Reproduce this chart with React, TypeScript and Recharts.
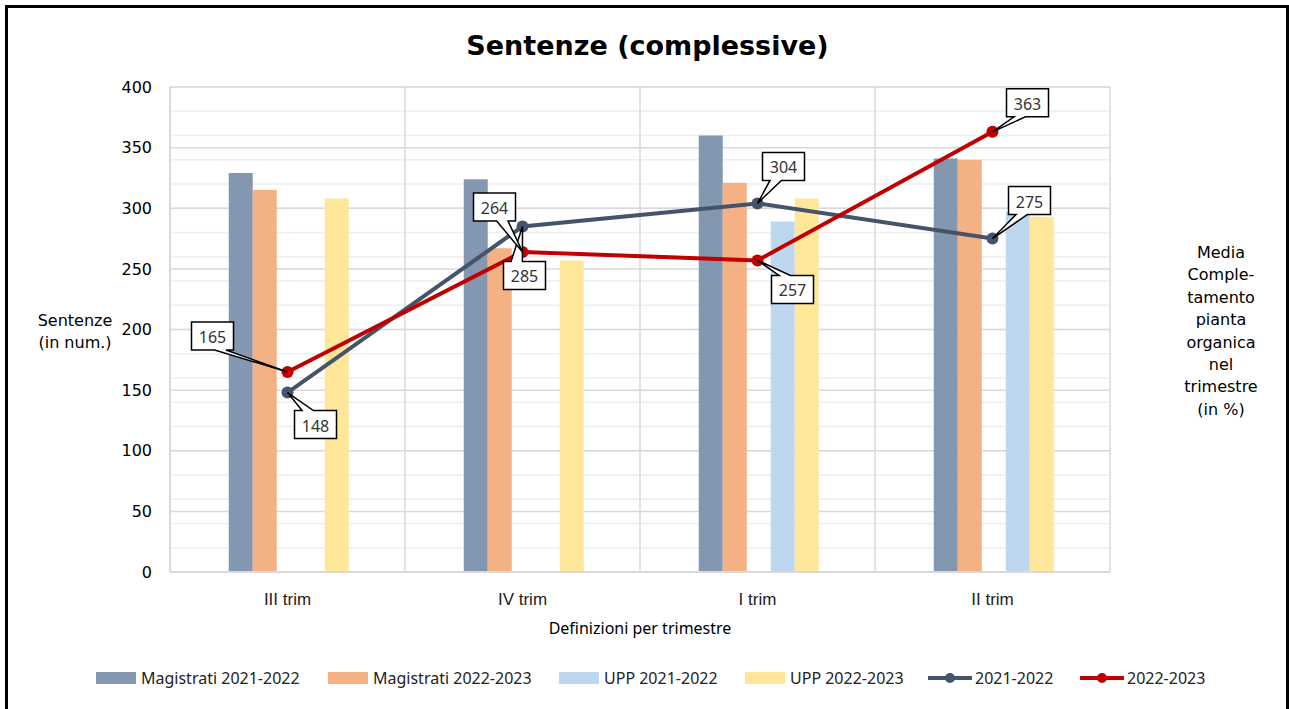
import React from 'react'
import {
  ComposedChart, Bar, Line, XAxis, YAxis, CartesianGrid, LabelList,
} from 'recharts'

const CATEGORIES = ['III trim', 'IV trim', 'I trim', 'II trim']
const MAG_2122 = [329, 324, 360, 341]
const MAG_2223 = [315, 267, 321, 340]
const UPP_2122 = [null, null, 289, 297]
const UPP_2223 = [308, 257, 308, 293]
const LINE_2122 = [148, 285, 304, 275]
const LINE_2223 = [165, 264, 257, 363]

const LEFT_TICKS = [0, 50, 100, 150, 200, 250, 300, 350, 400]
const RIGHT_TICKS = [0, 0.1, 0.2, 0.3, 0.4, 0.5, 0.6, 0.7, 0.8, 0.9, 1]

// callout box offset from its point (dx, dy)
const OFFSETS_2122 = [[28, 32], [2, 49], [26, -37], [37, -38]]
const OFFSETS_2223 = [[-75, -36], [-28, -45], [35, 29], [35, -29]]

const COLORS = {
  mag2122: '#8497B0',
  mag2223: '#F4B183',
  upp2122: '#BDD7EE',
  upp2223: '#FFE699',
  line2122: '#44546A',
  line2223: '#C00000',
}

const data = CATEGORIES.map((name, i) => ({
  name,
  mag2122: MAG_2122[i],
  mag2223: MAG_2223[i],
  gap: null,
  upp2122: UPP_2122[i],
  upp2223: UPP_2223[i],
  l2122: LINE_2122[i],
  l2223: LINE_2223[i],
}))

const minorValues = Array.from({ length: 41 }, (_, i) => i * 10)

const AXIS_FONT = '"DejaVu Sans", sans-serif'
const TEXT_FONT = '"Noto Sans", sans-serif'

function makeCallout(offsets: number[][]) {
  return (props: any) => {
    const { x, y, value, index } = props
    if (x == null || y == null) return null
    const [dx, dy] = offsets[index]
    const w = 42
    const h = 28
    const cx = x + dx
    const cy = y + dy
    const l = cx - w / 2
    const r = cx + w / 2
    const t = cy - h / 2
    const b = cy + h / 2
    const s = x >= cx ? 1 : -1
    const a = cx + s * w * 0.05
    const c = cx + s * w * 0.32
    const lo = Math.min(a, c)
    const hi = Math.max(a, c)
    let d
    if (y > b) {
      d = `M${l},${t} H${r} V${b} H${hi} L${x},${y} L${lo},${b} H${l} Z`
    } else {
      d = `M${l},${t} H${lo} L${x},${y} L${hi},${t} H${r} V${b} H${l} Z`
    }
    return (
      <g>
        <path d={d} fill="#fff" stroke="#000" strokeWidth={1.5} />
        <text x={cx} y={cy + 1} textAnchor="middle" dominantBaseline="central"
          fontFamily={TEXT_FONT} fontSize={16} fill="#333">{value}</text>
      </g>
    )
  }
}

const XTick = (props: any) => {
  const { x, y, payload } = props
  return (
    <text x={x} y={y + 31} textAnchor="middle" fill="#222"
      fontFamily="Liberation Sans, sans-serif" fontSize={17}>
      {payload.value}
    </text>
  )
}

const LeftTitle = () => {
  return (
    <text x={75} y={326} textAnchor="middle" fontFamily={AXIS_FONT} fontSize={16} fill="#000">
      <tspan x={75} dy={0}>Sentenze</tspan>
      <tspan x={75} dy={22}>(in num.)</tspan>
    </text>
  )
}

const RIGHT_TITLE = ['Media', 'Comple-', 'tamento', 'pianta', 'organica', 'nel', 'trimestre', '(in %)']

const RightTitle = () => {
  return (
    <text x={1221} y={258} textAnchor="middle" fontFamily={AXIS_FONT} fontSize={16} fill="#000">
      {RIGHT_TITLE.map((s, i) => (
        <tspan key={i} x={1221} dy={i === 0 ? 0 : 22.4}>{s}</tspan>
      ))}
    </text>
  )
}

function LegendItem({ kind, color, label, width }: any) {
  return (
    <div style={{ display: 'flex', alignItems: 'center', width }}>
      {kind === 'bar'
        ? <span style={{ display: 'inline-block', width: 40, height: 12, background: color, marginRight: 5 }} />
        : (
          <svg width={44} height={14} style={{ marginRight: 3 }}>
            <line x1={1} y1={7} x2={43} y2={7} stroke={color} strokeWidth={4} strokeLinecap="round" />
            <circle cx={22} cy={7} r={5} fill={color} />
          </svg>
        )}
      <span style={{ fontFamily: TEXT_FONT, fontSize: 16, color: '#222', whiteSpace: 'nowrap' }}>{label}</span>
    </div>
  )
}

export default function App() {
  return (
    <div style={{ position: 'absolute', left: 0, top: 0, width: 1289, height: 709, background: '#fff', overflow: 'hidden', fontFamily: TEXT_FONT }}>
      <div style={{ position: 'absolute', left: 5, top: 5, width: 1278, height: 720, border: '3px solid #000' }} />
      <div style={{
        position: 'absolute', left: 0, width: 1295, top: 30, textAlign: 'center',
        fontFamily: AXIS_FONT, fontWeight: 'bold', fontSize: 27, color: '#000',
      }}>Sentenze (complessive)</div>

      <div style={{ position: 'absolute', left: 0, top: 0 }}>
        <ComposedChart
          width={1289}
          height={709}
          data={data}
          margin={{ top: 87, right: 119, bottom: 107, left: 110 }}
          barCategoryGap="25%"
          barGap={0}
        >
          <CartesianGrid yAxisId="left" horizontalValues={minorValues} vertical={false} stroke="#EEEEEE" strokeWidth={1.5} />
          <CartesianGrid
            yAxisId="left"
            horizontalValues={LEFT_TICKS}
            stroke="#D9D9D9"
            strokeWidth={1.5}
            verticalCoordinatesGenerator={({ offset }: any) =>
              [0, 1, 2, 3, 4].map(i => offset.left + (i * offset.width) / 4)}
          />
          <XAxis
            dataKey="name"
            height={30}
            axisLine={{ stroke: '#D9D9D9', strokeWidth: 2 }}
            tickLine={false}
            tickSize={0}
            tick={<XTick />}
          />
          <YAxis
            yAxisId="left"
            width={60}
            domain={[0, 400]}
            ticks={LEFT_TICKS}
            axisLine={{ stroke: '#D9D9D9', strokeWidth: 2 }}
            tickLine={false}
            tickSize={0}
            tickMargin={18}
            tick={{ fontFamily: AXIS_FONT, fontSize: 16, fill: '#000' }}
            label={<LeftTitle />}
          />
          <YAxis
            yAxisId="right"
            orientation="right"
            width={60}
            domain={[0, 1]}
            ticks={RIGHT_TICKS}
            axisLine={false}
            tickLine={false}
            tickSize={0}
            tickMargin={18}
            tickFormatter={(v: number) => `${Math.round(v * 100)}%`}
            tick={{ fontFamily: AXIS_FONT, fontSize: 16, fill: '#000', textAnchor: 'start' }}
            label={<RightTitle />}
          />
          <Bar yAxisId="left" dataKey="mag2122" name="Magistrati 2021-2022" fill={COLORS.mag2122} isAnimationActive={false} />
          <Bar yAxisId="left" dataKey="mag2223" name="Magistrati 2022-2023" fill={COLORS.mag2223} isAnimationActive={false} />
          <Bar yAxisId="left" dataKey="gap" legendType="none" fill="none" isAnimationActive={false} />
          <Bar yAxisId="left" dataKey="upp2122" name="UPP 2021-2022" fill={COLORS.upp2122} isAnimationActive={false} />
          <Bar yAxisId="left" dataKey="upp2223" name="UPP 2022-2023" fill={COLORS.upp2223} isAnimationActive={false} />
          <Line
            yAxisId="left"
            dataKey="l2122"
            name="2021-2022"
            stroke={COLORS.line2122}
            strokeWidth={4}
            dot={{ r: 6, fill: COLORS.line2122, stroke: COLORS.line2122, strokeWidth: 0 }}
            isAnimationActive={false}
          >
            <LabelList dataKey="l2122" content={makeCallout(OFFSETS_2122)} />
          </Line>
          <Line
            yAxisId="left"
            dataKey="l2223"
            name="2022-2023"
            stroke={COLORS.line2223}
            strokeWidth={4}
            dot={{ r: 6, fill: COLORS.line2223, stroke: COLORS.line2223, strokeWidth: 0 }}
            isAnimationActive={false}
          >
            <LabelList dataKey="l2223" content={makeCallout(OFFSETS_2223)} />
          </Line>
        </ComposedChart>
      </div>

      <div style={{
        position: 'absolute', left: 640, top: 617, transform: 'translateX(-50%)', whiteSpace: 'nowrap',
        fontFamily: TEXT_FONT, fontSize: 16, color: '#000',
      }}>Definizioni per trimestre</div>

      <div style={{ position: 'absolute', left: 96, top: 667, display: 'flex', alignItems: 'center', height: 22 }}>
        <LegendItem kind="bar" color={COLORS.mag2122} label="Magistrati 2021-2022" width={232} />
        <LegendItem kind="bar" color={COLORS.mag2223} label="Magistrati 2022-2023" width={231} />
        <LegendItem kind="bar" color={COLORS.upp2122} label="UPP 2021-2022" width={186} />
        <LegendItem kind="bar" color={COLORS.upp2223} label="UPP 2022-2023" width={183} />
        <LegendItem kind="line" color={COLORS.line2122} label="2021-2022" width={152} />
        <LegendItem kind="line" color={COLORS.line2223} label="2022-2023" width={140} />
      </div>
    </div>
  )
}
